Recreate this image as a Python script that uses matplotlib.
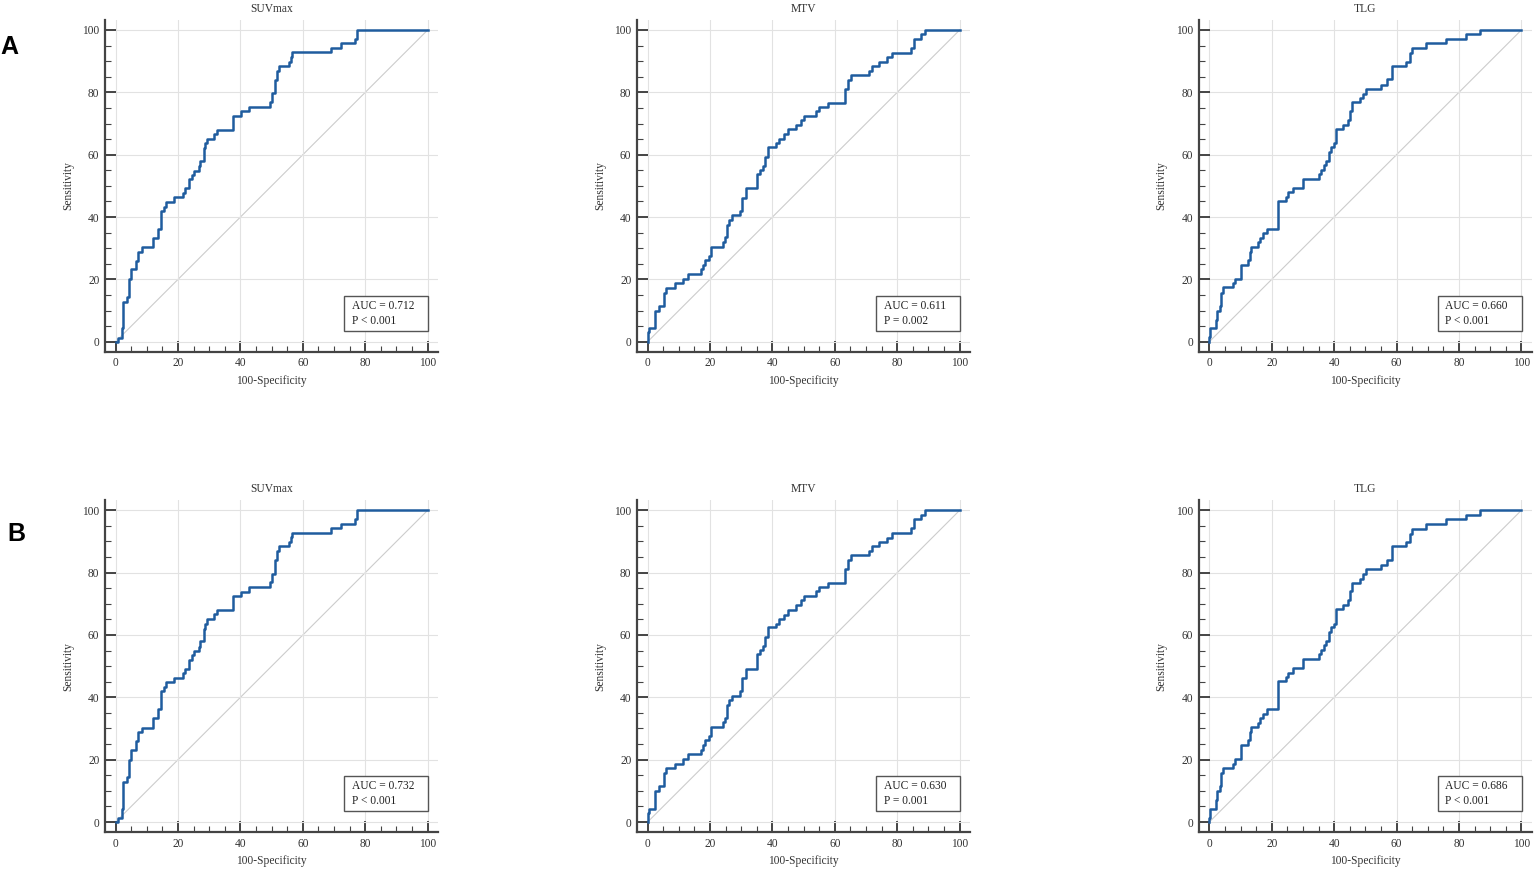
import numpy as np
import matplotlib
matplotlib.use('Agg')
import matplotlib.pyplot as plt
from matplotlib.patches import Rectangle
from matplotlib.ticker import MultipleLocator

plt.rcParams['font.family'] = ['Liberation Serif', 'DejaVu Serif']

# ROC corner points (100-Specificity, Sensitivity)
suv_x = [0, 0.85, 1.9, 2.5, 3.8, 4.3, 4.8, 6.4, 7.3, 8.3, 11.9, 13.7, 14.4, 15.5, 16.3,
         18.7, 21.5, 22.3, 23.6, 24.4, 25.2, 26.7, 27.1, 28.3, 28.8, 29.4, 31.5, 32.6,
         37.5, 40.1, 42.8, 49.5, 50.0, 51.2, 51.6, 52.2, 55.4, 56.1, 56.6, 68.9, 72.1,
         76.7, 77.5, 100]
suv_y = [0, 1.3, 4.3, 12.8, 14.4, 20.0, 23.2, 26.0, 28.9, 30.3, 33.3, 36.2, 41.9, 43.3,
         44.9, 46.3, 47.8, 49.2, 52.1, 53.5, 54.8, 56.3, 58.0, 62.0, 63.6, 65.0, 66.6,
         67.9, 72.5, 73.9, 75.4, 77.0, 79.7, 83.9, 86.9, 88.4, 89.8, 91.4, 92.8, 94.3,
         95.7, 97.1, 100, 100]

mtv_x = [0, 0, 0.5, 2.3, 3.7, 5.3, 5.9, 8.8, 11.4, 13.0, 17.0, 17.6, 18.4, 19.6, 20.3,
         24.2, 24.8, 25.3, 26.1, 27.2, 29.6, 30.4, 31.5, 34.9, 36.0, 37.0, 37.6, 38.6,
         41.1, 42.2, 43.7, 45.0, 47.7, 49.0, 50.1, 53.9, 54.8, 57.8, 63.4, 64.2, 65.3,
         71.0, 71.9, 74.2, 76.8, 78.4, 84.3, 85.3, 87.7, 88.8, 100]
mtv_y = [0, 3.0, 4.3, 10.0, 11.4, 15.7, 17.3, 18.7, 20.1, 21.7, 23.2, 24.6, 26.2, 27.5,
         30.5, 32.1, 33.5, 37.4, 39.0, 40.5, 42.0, 46.2, 49.2, 53.8, 55.1, 56.5, 59.4,
         62.4, 63.6, 65.1, 66.5, 68.1, 69.6, 71.1, 72.5, 74.0, 75.4, 76.7, 81.2, 83.9,
         85.5, 86.9, 88.4, 89.8, 91.2, 92.7, 94.2, 97.1, 98.6, 100, 100]

tlg_x = [0, 0, 0.3, 2.2, 2.6, 3.3, 3.7, 4.3, 7.6, 8.2, 10.2, 12.4, 12.9, 13.4, 15.6,
         16.1, 17.2, 18.4, 22.0, 24.6, 25.2, 26.8, 29.9, 35.0, 35.8, 36.8, 37.4, 38.5,
         39.0, 40.0, 40.6, 42.7, 44.5, 45.1, 45.6, 48.3, 49.4, 50.1, 55.0, 56.8, 58.4,
         63.0, 64.3, 64.9, 69.3, 76.0, 82.1, 86.7, 100]
tlg_y = [0, 1.4, 4.3, 7.0, 10.0, 11.4, 15.7, 17.4, 18.7, 20.2, 24.6, 26.2, 28.9, 30.5,
         31.9, 33.4, 34.8, 36.3, 45.2, 46.5, 47.9, 49.4, 52.2, 53.8, 55.1, 56.7, 58.1,
         60.9, 62.4, 63.6, 68.2, 69.6, 71.1, 74.0, 76.8, 78.1, 79.6, 81.1, 82.5, 84.2,
         88.4, 89.8, 92.5, 94.1, 95.7, 97.1, 98.6, 100, 100]

titles = ['SUVmax', 'MTV', 'TLG']
curves = [(suv_x, suv_y), (mtv_x, mtv_y), (tlg_x, tlg_y)]
auc_a = ['0.712', '0.611', '0.660']
p_a = ['P < 0.001', 'P = 0.002', 'P < 0.001']
auc_b = ['0.732', '0.630', '0.686']
p_b = ['P < 0.001', 'P = 0.001', 'P < 0.001']

fig = plt.figure(figsize=(15.36, 8.71), dpi=100)

lefts = [105 / 1536, 637 / 1536, 1198.7 / 1536]
bottoms = [1 - 351.7 / 871, 1 - 832 / 871]
w = 333 / 1536
h = 331.7 / 871

curve_col = '#1f5c9e'
axis_col = '#444444'

def draw_roc(ax, x, y, title, auc, ptxt):
    ax.plot([0, 100], [0, 100], color='#cccccc', lw=0.8, zorder=1)
    ax.step(x, y, where='post', color=curve_col, lw=1.8, zorder=3)
    ax.set_xlim(-3.4, 103.3)
    ax.set_ylim(-3.2, 103.2)
    ax.xaxis.set_major_locator(MultipleLocator(20))
    ax.yaxis.set_major_locator(MultipleLocator(20))
    ax.xaxis.set_minor_locator(MultipleLocator(5))
    ax.yaxis.set_minor_locator(MultipleLocator(5))
    ax.grid(True, which='major', color='#e2e2e2', lw=0.8, zorder=0)
    for s in ['top', 'right']:
        ax.spines[s].set_visible(False)
    for s in ['left', 'bottom']:
        ax.spines[s].set_color(axis_col)
        ax.spines[s].set_linewidth(1.6)
    ax.tick_params(which='major', direction='in', length=8, width=1.4, color=axis_col,
                   labelsize=8.3, labelcolor='#333333', pad=4)
    ax.tick_params(which='minor', direction='in', length=4, width=0.8, color=axis_col)
    ax.set_title(title, fontsize=8.3, color='#333333', pad=6)
    ax.set_xlabel('100-Specificity', fontsize=8.3, color='#333333', labelpad=4)
    ax.set_ylabel('Sensitivity', fontsize=8.3, color='#333333', labelpad=6)
    # AUC box
    ax.add_patch(Rectangle((73.2, 3.4), 26.9, 11.4, fc='white', ec='#555555', lw=1.0, zorder=4))
    ax.text(75.6, 11.4, 'AUC = ' + auc, fontsize=8.3, color='#222222', va='center', zorder=5)
    ax.text(75.6, 6.8, ptxt, fontsize=8.3, color='#222222', va='center', zorder=5)

for row, (aucs, ps) in enumerate([(auc_a, p_a), (auc_b, p_b)]):
    for col in range(3):
        ax = fig.add_axes([lefts[col], bottoms[row], w, h])
        x, y = curves[col]
        draw_roc(ax, x, y, titles[col], aucs[col], ps[col])

fig.text(0.0, 1 - 47 / 871, 'A', ha='left', va='center', fontsize=18, fontweight='bold',
         family='Liberation Sans')
fig.text(7 / 1536, 1 - 534 / 871, 'B', ha='left', va='center', fontsize=18, fontweight='bold',
         family='Liberation Sans')

fig.savefig('out.png', dpi=100)
